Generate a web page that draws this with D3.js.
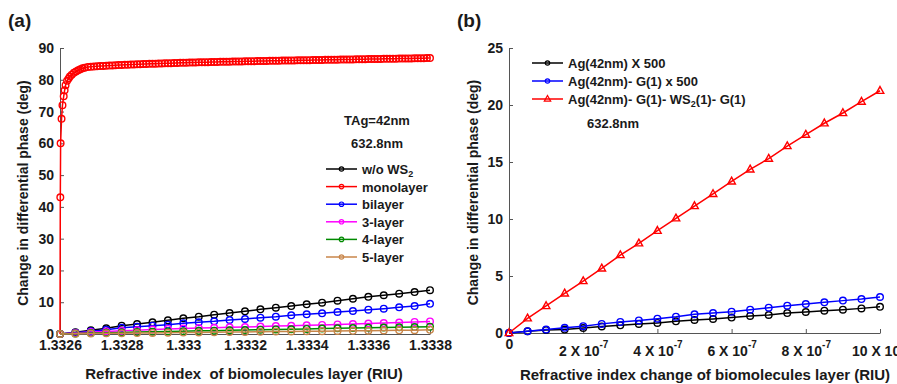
<!DOCTYPE html>
<html>
<head>
<meta charset="utf-8">
<script src="https://cdn.jsdelivr.net/npm/d3@7"></script>
<style>
    body { margin: 0; background: #fff; }
    svg text { font-family: Arial, "Liberation Sans", sans-serif; font-weight: bold; fill: #1a1a1a; }
</style>
</head>
<body>
<div id="content"></div>
<script>
// ======= data : panel (a) =======
var riTicks = [1.3326, 1.3328, 1.333, 1.3332, 1.3334, 1.3336, 1.3338];
var riTickLabels = ["1.3326", "1.3328", "1.333", "1.3332", "1.3334", "1.3336", "1.3338"];
var phaseTicksA = [0, 10, 20, 30, 40, 50, 60, 70, 80, 90];
// 25 samples, 1.3326 .. 1.3338, step 0.00005
var riGrid = d3.range(25).map(function(i) { return 1.3326 + i * 0.00005; });
var noWs2   = [0, 0.52, 1.15, 1.78, 2.62, 3.14, 3.67, 4.3, 4.93, 5.45, 6.08, 6.6, 7.13, 7.76, 8.28, 8.8, 9.33, 9.85, 10.5, 11.1, 11.7, 12.2, 12.7, 13.2, 13.8];
var bilayer = [0, 0.42, 0.84, 1.36, 1.99, 2.3, 2.62, 2.93, 3.35, 3.67, 3.98, 4.4, 4.72, 5.14, 5.45, 5.87, 6.18, 6.5, 6.92, 7.23, 7.65, 7.97, 8.38, 8.8, 9.5];
var layer3  = [0, 0.3, 0.6, 0.8, 1.0, 1.2, 1.4, 1.6, 1.75, 1.85, 1.95, 2.1, 2.2, 2.35, 2.5, 2.6, 2.75, 2.85, 3.0, 3.15, 3.3, 3.45, 3.6, 3.8, 3.95];
var layer4  = [0, 0.15, 0.3, 0.4, 0.5, 0.6, 0.7, 0.8, 0.9, 1.0, 1.05, 1.15, 1.25, 1.35, 1.45, 1.5, 1.6, 1.7, 1.8, 1.85, 1.95, 2.05, 2.1, 2.2, 2.3];
var layer5  = [0, 0.1, 0.15, 0.2, 0.25, 0.3, 0.35, 0.4, 0.45, 0.5, 0.55, 0.6, 0.65, 0.7, 0.75, 0.8, 0.85, 0.9, 0.95, 1.0, 1.05, 1.1, 1.15, 1.2, 1.3];
// monolayer: steep rise, then dense samples every 0.00001 from 1.3327
var monoRiseX = [1.3326, 1.332601, 1.332602, 1.332605, 1.332608, 1.332612, 1.332615, 1.332618, 1.332623, 1.332628, 1.332632, 1.332638, 1.332645, 1.332652, 1.332659, 1.332666, 1.332673, 1.33268, 1.33269];
var monoRiseY = [0, 43, 60, 67.7, 72, 74.8, 76.7, 78.3, 79.7, 80.4, 81, 81.6, 82.2, 82.6, 83.0, 83.3, 83.6, 83.8, 84.0];
var monoTail = [
    84.1, 84.17, 84.24, 84.3, 84.36, 84.42, 84.47, 84.52, 84.57, 84.62,
    84.67, 84.71, 84.75, 84.79, 84.83, 84.87, 84.91, 84.94, 84.98, 85.01,
    85.05, 85.08, 85.11, 85.14, 85.17, 85.2, 85.23, 85.26, 85.29, 85.32,
    85.35, 85.38, 85.4, 85.43, 85.45, 85.48, 85.5, 85.53, 85.55, 85.58,
    85.6, 85.62, 85.64, 85.66, 85.68, 85.7, 85.72, 85.74, 85.76, 85.78,
    85.8, 85.82, 85.84, 85.86, 85.88, 85.9, 85.92, 85.94, 85.96, 85.98,
    86.0, 86.02, 86.03, 86.05, 86.07, 86.08, 86.1, 86.12, 86.13, 86.15,
    86.17, 86.18, 86.2, 86.22, 86.23, 86.25, 86.27, 86.28, 86.3, 86.32,
    86.33, 86.35, 86.37, 86.38, 86.4, 86.42, 86.43, 86.45, 86.47, 86.48,
    86.5, 86.52, 86.53, 86.55, 86.57, 86.58, 86.6, 86.62, 86.63, 86.65,
    86.67, 86.68, 86.7, 86.72, 86.73, 86.75, 86.77, 86.78, 86.8, 86.82,
    86.85
];
var monoTailX = d3.range(monoTail.length).map(function(i) { return 1.3327 + i * 0.00001; });

// ======= data : panel (b) =======
var dnTicks = [0, 2e-7, 4e-7, 6e-7, 8e-7, 10e-7];
var dnTickLabels = ["0", "2", "4", "6", "8", "10"];
var phaseTicksB = [0, 5, 10, 15, 20, 25];
// 21 samples, 0 .. 1e-6, step 0.5e-7
var dnGrid = d3.range(21).map(function(i) { return i * 0.5e-7; });
var agX500    = [0, 0.15, 0.26, 0.3, 0.44, 0.58, 0.67, 0.8, 0.88, 1.02, 1.14, 1.23, 1.35, 1.5, 1.58, 1.75, 1.84, 1.96, 2.05, 2.16, 2.3];
var agGX500   = [0, 0.15, 0.3, 0.45, 0.6, 0.8, 0.97, 1.1, 1.26, 1.43, 1.64, 1.75, 1.87, 2.05, 2.22, 2.4, 2.54, 2.69, 2.84, 2.98, 3.16];
var agGWsG    = [0, 1.29, 2.37, 3.48, 4.56, 5.67, 6.84, 7.87, 8.97, 10.06, 11.14, 12.2, 13.3, 14.35, 15.3, 16.4, 17.4, 18.4, 19.3, 20.3, 21.25];

// ======= formatting =======
var width = 897, height = 384;
var axisColor = "#555";
var svgEl = d3.select("#content").append("svg")
    .attr("width", width)
    .attr("height", height);

function zipXY(xs, ys) {
    return xs.map(function(x, i) { return [x, ys[i]]; });
}

var trianglePath = "M0,-4.2L3.8,2.6L-3.8,2.6Z";

// ======= drawSeries =======
function drawSeries(g, xScale, yScale, pts, color, shape, r) {
    var line = d3.line()
        .x(function(d) { return xScale(d[0]); })
        .y(function(d) { return yScale(d[1]); });
    g.append("path")
        .datum(pts)
        .attr("d", line)
        .attr("fill", "none")
        .attr("stroke", color)
        .attr("stroke-width", 1.5);
    if (shape == "tri") {
        g.selectAll(null).data(pts).enter()
            .append("path")
            .attr("d", trianglePath)
            .attr("transform", function(d) { return "translate(" + xScale(d[0]) + "," + yScale(d[1]) + ")"; })
            .attr("fill", "none")
            .attr("stroke", color)
            .attr("stroke-width", 1.4);
    } else {
        g.selectAll(null).data(pts).enter()
            .append("circle")
            .attr("cx", function(d) { return xScale(d[0]); })
            .attr("cy", function(d) { return yScale(d[1]); })
            .attr("r", r)
            .attr("fill", "none")
            .attr("stroke", color)
            .attr("stroke-width", 1.4);
    }
}

// ======= drawAxes =======
function drawAxes(xScale, yScale, xTicks, yTicks, xFormat) {
    var y0 = yScale.range()[0];
    var x0 = xScale.range()[0];
    var gx = svgEl.append("g")
        .attr("transform", "translate(0," + y0 + ")")
        .call(d3.axisBottom(xScale)
            .tickValues(xTicks)
            .tickSizeInner(-4)
            .tickSizeOuter(0)
            .tickPadding(6)
            .tickFormat(xFormat));
    var gy = svgEl.append("g")
        .attr("transform", "translate(" + x0 + ",0)")
        .call(d3.axisLeft(yScale)
            .tickValues(yTicks)
            .tickSizeInner(-4)
            .tickSizeOuter(0)
            .tickPadding(6));
    [gx, gy].forEach(function(g) {
        g.select(".domain").attr("stroke", axisColor);
        g.selectAll(".tick line").attr("stroke", axisColor);
        g.selectAll("text")
            .attr("fill", "#1a1a1a")
            .style("font-size", "14px")
            .style("font-family", "Arial, 'Liberation Sans', sans-serif")
            .style("font-weight", "bold");
    });
    return gx;
}

// ======= legend row =======
function legendRow(g, x1, x2, y, color, shape, label, sub, tail) {
    g.append("line")
        .attr("x1", x1).attr("x2", x2).attr("y1", y).attr("y2", y)
        .attr("stroke", color).attr("stroke-width", 1.5);
    var mx = (x1 + x2) / 2;
    if (shape == "tri") {
        g.append("path")
            .attr("d", "M0,-3.5L3.2,2.2L-3.2,2.2Z")
            .attr("transform", "translate(" + mx + "," + y + ")")
            .attr("fill", "none").attr("stroke", color).attr("stroke-width", 1.2);
    } else {
        g.append("circle")
            .attr("cx", mx).attr("cy", y).attr("r", 2.2)
            .attr("fill", "none").attr("stroke", color).attr("stroke-width", 1.2);
    }
    var t = g.append("text")
        .attr("x", x2 + 5)
        .attr("y", y + 5)
        .style("font-size", "13px")
        .text(label);
    if (sub) {
        t.append("tspan").attr("dy", 3).style("font-size", "9px").text(sub);
        t.append("tspan").attr("dy", -3).text(tail || "");
    }
}

// ======= panel (a) =======
var xA = d3.scaleLinear().domain([1.3326, 1.3338]).range([60, 430]);
var yA = d3.scaleLinear().domain([0, 90]).range([334, 48]);

drawAxes(xA, yA, riTicks, phaseTicksA, function(d, i) { return riTickLabels[i]; });

var plotA = svgEl.append("g");
var seriesA = [
    { pts: zipXY(riGrid, noWs2), color: "#000000" },
    { pts: zipXY(monoRiseX, monoRiseY).concat(zipXY(monoTailX, monoTail)), color: "#ff0000" },
    { pts: zipXY(riGrid, bilayer), color: "#0000ff" },
    { pts: zipXY(riGrid, layer3), color: "#ff00ff" },
    { pts: zipXY(riGrid, layer4), color: "#008a00" },
    { pts: zipXY(riGrid, layer5), color: "#c8864a" }
];
seriesA.forEach(function(s) {
    drawSeries(plotA, xA, yA, s.pts, s.color, "circle", 3.3);
});

svgEl.append("text")
    .attr("transform", "translate(28," + ((yA.range()[0] + yA.range()[1]) / 2 + 2) + ") rotate(-90)")
    .attr("text-anchor", "middle")
    .style("font-size", "14px")
    .text("Change in differential phase (deg)");
svgEl.append("text")
    .attr("x", 244).attr("y", 379)
    .attr("text-anchor", "middle")
    .attr("xml:space", "preserve")
    .style("font-size", "15px")
    .text("Refractive index  of biomolecules layer (RIU)");
svgEl.append("text")
    .attr("x", 8).attr("y", 27)
    .style("font-size", "19px")
    .text("(a)");

var legA = svgEl.append("g");
legA.append("text").attr("x", 377).attr("y", 125).attr("text-anchor", "middle").style("font-size", "13px").text("TAg=42nm");
legA.append("text").attr("x", 377).attr("y", 148).attr("text-anchor", "middle").style("font-size", "13px").text("632.8nm");
var legANames = [["w/o WS", "2", ""], ["monolayer"], ["bilayer"], ["3-layer"], ["4-layer"], ["5-layer"]];
legANames.forEach(function(n, i) {
    legendRow(legA, 326, 357, 169 + i * 17.6, seriesA[i].color, "circle", n[0], n[1], n[2]);
});

// ======= panel (b) =======
var xB = d3.scaleLinear().domain([0, 10e-7]).range([509, 880]);
var yB = d3.scaleLinear().domain([0, 25]).range([333, 48]);

var gxB = drawAxes(xB, yB, dnTicks, phaseTicksB, function() { return ""; });
gxB.selectAll(".tick").each(function(d, i) {
    var t = d3.select(this).append("text")
        .attr("fill", "#1a1a1a")
        .attr("text-anchor", "middle")
        .style("font-size", "14px");
    if (i == 0) {
        t.attr("y", 16).text(dnTickLabels[i]);
    } else {
        t.attr("y", 23).text(dnTickLabels[i] + " X 10");
        t.append("tspan").attr("dy", -8).style("font-size", "10px").text("-7");
    }
});

var plotB = svgEl.append("g");
var seriesB = [
    { pts: zipXY(dnGrid, agX500), color: "#000000", shape: "circle", name: "Ag(42nm) X 500" },
    { pts: zipXY(dnGrid, agGX500), color: "#0000ff", shape: "circle", name: "Ag(42nm)- G(1) x 500" },
    { pts: zipXY(dnGrid, agGWsG), color: "#ff0000", shape: "tri", name: "Ag(42nm)- G(1)- WS" }
];
seriesB.forEach(function(s) {
    drawSeries(plotB, xB, yB, s.pts, s.color, s.shape, 3.3);
});

svgEl.append("text")
    .attr("transform", "translate(478," + ((yB.range()[0] + yB.range()[1]) / 2 + 2) + ") rotate(-90)")
    .attr("text-anchor", "middle")
    .style("font-size", "14px")
    .text("Change in differential phase (deg)");
svgEl.append("text")
    .attr("x", 705).attr("y", 380)
    .attr("text-anchor", "middle")
    .style("font-size", "15px")
    .text("Refractive index change of biomolecules layer (RIU)");
svgEl.append("text")
    .attr("x", 457).attr("y", 27)
    .style("font-size", "19px")
    .text("(b)");

var legB = svgEl.append("g");
seriesB.forEach(function(s, i) {
    if (i == 2) {
        legendRow(legB, 532, 563, 63 + i * 18, s.color, s.shape, s.name, "2", "(1)- G(1)");
    } else {
        legendRow(legB, 532, 563, 63 + i * 18, s.color, s.shape, s.name);
    }
});
legB.append("text").attr("x", 587).attr("y", 128).style("font-size", "13px").text("632.8nm");
</script>
</body>
</html>
